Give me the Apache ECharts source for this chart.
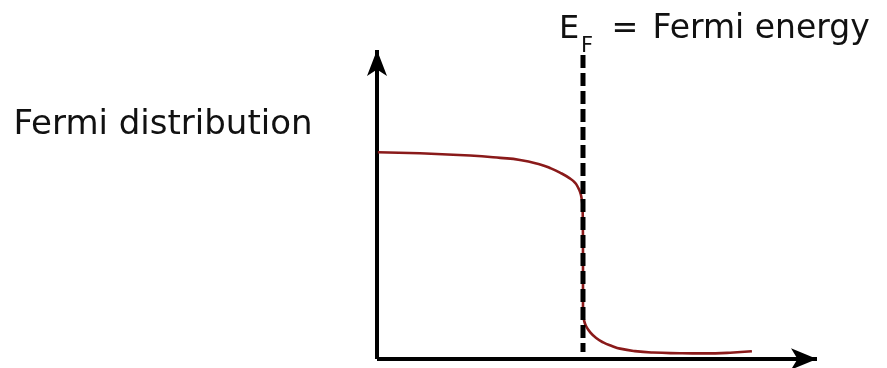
<!DOCTYPE html>
<html>
<head>
<meta charset="utf-8">
<title>Fermi distribution</title>
<script src="https://cdn.jsdelivr.net/npm/echarts@6/dist/echarts.min.js"></script>
<style>
  html, body { margin: 0; padding: 0; background: #ffffff; }
  #chart { width: 887px; height: 368px; }
</style>
</head>
<body>
<div id="chart"></div>
<script>
// Occupancy f(E) against energy E (arbitrary units), Fermi level at E = 5
const energy = [0.02, 1.04, 2.26, 2.99, 3.47, 3.96, 4.2, 4.44, 4.68, 4.81, 4.88, 4.93, 4.96, 4.985, 4.995, 5.0, 5.0, 5.0, 5.024, 5.073, 5.17, 5.32, 5.49, 5.7, 5.9, 6.26, 6.7, 7.35, 7.91, 8.57, 9.1];
const occupancy = [0.997, 0.992, 0.981, 0.97, 0.96, 0.938, 0.921, 0.899, 0.871, 0.849, 0.827, 0.805, 0.781, 0.743, 0.68, 0.5, 0.3, 0.222, 0.188, 0.159, 0.13, 0.101, 0.08, 0.063, 0.05, 0.038, 0.031, 0.028, 0.027, 0.03, 0.037];

const fermiEnergy = 5;
// vertical extent of the dashed Fermi-level marker (in occupancy units)
const fermiLineSpan = [1.466, 0.034];

const axisRange = { xMax: 10.68, yMax: 1.49 };

const labels = {
  yTitle: 'Fermi distribution',
  symbol: 'E',
  subscript: 'F',
  equals: '=',
  meaning: 'Fermi energy'
};

const curve = energy.map((e, i) => [e, occupancy[i]]);
const fermiLine = fermiLineSpan.map(v => [fermiEnergy, v]);

const FONT = '"DejaVu Sans", Verdana, sans-serif';
const TEXT_COLOR = '#111111';

const chart = echarts.init(document.getElementById('chart'), null, { renderer: 'canvas' });

const axisLineStyle = { color: '#000000', width: 4, cap: 'butt' };

chart.setOption({
  backgroundColor: '#ffffff',
  animation: false,
  grid: { left: 377, top: 50, width: 440, height: 309, containLabel: false },
  xAxis: {
    type: 'value',
    min: 0,
    max: axisRange.xMax,
    axisLine: { show: true, lineStyle: axisLineStyle, symbol: ['none', 'arrow'], symbolSize: [16, 26] },
    axisTick: { show: false },
    axisLabel: { show: false },
    splitLine: { show: false }
  },
  yAxis: {
    type: 'value',
    min: 0,
    max: axisRange.yMax,
    axisLine: { show: true, lineStyle: axisLineStyle, symbol: ['none', 'arrow'], symbolSize: [15, 26] },
    axisTick: { show: false },
    axisLabel: { show: false },
    splitLine: { show: false }
  },
  series: [
    {
      name: 'f(E)',
      type: 'line',
      data: curve,
      smooth: 0.5,
      showSymbol: false,
      symbol: 'none',
      lineStyle: { color: '#8a1a1a', width: 2.6 },
      z: 3
    },
    {
      name: 'E_F',
      type: 'line',
      data: fermiLine,
      clip: false,
      showSymbol: false,
      symbol: 'none',
      lineStyle: { color: '#000000', width: 5, type: [13, 5], cap: 'butt' },
      z: 4
    }
  ],
  graphic: [
    {
      type: 'text', x: 13.4, y: 125,
      style: { text: labels.yTitle, font: '34px ' + FONT, fill: TEXT_COLOR, verticalAlign: 'middle', align: 'left' }
    },
    {
      type: 'text', x: 559, y: 29.5,
      style: { text: labels.symbol, font: '32px ' + FONT, fill: TEXT_COLOR, verticalAlign: 'middle', align: 'left' }
    },
    {
      type: 'text', x: 581, y: 46.5,
      style: { text: labels.subscript, font: '21px ' + FONT, fill: TEXT_COLOR, verticalAlign: 'middle', align: 'left' }
    },
    {
      type: 'text', x: 611.5, y: 29.5,
      style: { text: labels.equals, font: '32px ' + FONT, fill: TEXT_COLOR, verticalAlign: 'middle', align: 'left' }
    },
    {
      type: 'text', x: 652.5, y: 29,
      style: { text: labels.meaning, font: '33px ' + FONT, fill: TEXT_COLOR, verticalAlign: 'middle', align: 'left' }
    }
  ]
});
</script>
</body>
</html>
